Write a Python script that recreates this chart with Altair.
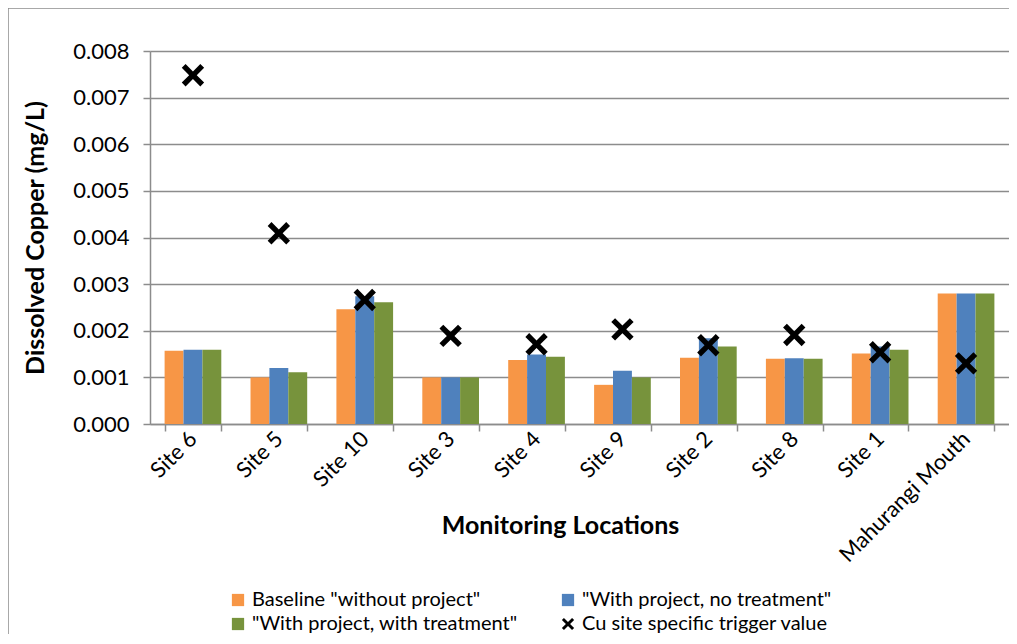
import altair as alt
import pandas as pd

sites = ["Site 6", "Site 5", "Site 10", "Site 3", "Site 4", "Site 9",
         "Site 2", "Site 8", "Site 1", "Mahurangi Mouth"]
baseline = [0.00157, 0.00100, 0.00246, 0.00100, 0.00137, 0.00084, 0.00142, 0.00140, 0.00151, 0.00280]
no_treatment = [0.00159, 0.00120, 0.00274, 0.00100, 0.00149, 0.00114, 0.00184, 0.00141, 0.00166, 0.00280]
with_treatment = [0.00159, 0.00111, 0.00261, 0.00100, 0.00144, 0.00100, 0.00166, 0.00140, 0.00159, 0.00280]
trigger = [0.00748, 0.00409, 0.00266, 0.00189, 0.00171, 0.00203, 0.00169, 0.00191, 0.00154, 0.00130]
y_ticks = [0.000, 0.001, 0.002, 0.003, 0.004, 0.005, 0.006, 0.007, 0.008]

series_names = ['Baseline "without project"', '"With project, no treatment"',
                '"With project, with treatment"', 'Cu site specific trigger value']
colors = ["#F79646", "#4F81BD", "#77933C", "#000000"]

rows = []
for name, vals in zip(series_names[:3], [baseline, no_treatment, with_treatment]):
    for s, v in zip(sites, vals):
        rows.append({"site": s, "series": name, "value": v})
bars_df = pd.DataFrame(rows)
trig_df = pd.DataFrame({"site": sites, "series": series_names[3], "value": trigger})

FONT = "Lato"
a = 0.34
xpath = (f"M-1,{-1+a}L{-1+a},-1L0,{-a}L{1-a},-1L1,{-1+a}L{a},0L1,{1-a}L{1-a},1L0,{a}"
         f"L{-1+a},1L-1,{1-a}L{-a},0Z")

color_scale = alt.Scale(domain=series_names, range=colors)

W, H = 859, 373

x_enc = alt.X("site:N", sort=sites,
              scale=alt.Scale(paddingInner=0.34, paddingOuter=0.17),
              axis=alt.Axis(title="Monitoring Locations", labelAngle=-45, labelAlign="right",
                            labelBaseline="middle", tickBand="extent", labelPadding=4,
                            labelLimit=0,
                            titleX=410, titleY=101, titleBaseline="middle", titleAlign="center"))
y_enc = alt.Y("value:Q", scale=alt.Scale(domain=[0, 0.008], nice=False),
              axis=alt.Axis(title="Dissolved Copper (mg/L)", format=".3f",
                            values=y_ticks, labelOverlap=False,
                            titleX=-115, titleY=H / 2, titleAlign="center", titleBaseline="middle"))

legend = alt.Legend(title=None, orient="none", legendX=78, legendY=539, columns=2,
                    direction="horizontal",
                    columnPadding=40, rowPadding=4, symbolSize=150, labelFontSize=20,
                    labelFont=FONT, symbolStrokeWidth=0, labelColor="#000000", labelLimit=0)

bars = alt.Chart(bars_df).mark_bar().encode(
    x=x_enc,
    y=y_enc,
    xOffset=alt.XOffset("series:N", sort=series_names[:3], scale=alt.Scale(paddingInner=0, paddingOuter=0)),
    color=alt.Color("series:N", scale=color_scale, legend=legend),
)

points = alt.Chart(trig_df).mark_point(filled=True, opacity=1, strokeWidth=0).encode(
    x=x_enc,
    y=y_enc,
    color=alt.Color("series:N", scale=color_scale, legend=legend),
    shape=alt.Shape("series:N", scale=alt.Scale(domain=series_names,
                                                range=["square", "square", "square", xpath]),
                    legend=legend),
    size=alt.value(500),
)

frame = alt.Chart(alt.Data(values=[{}])).mark_rect(fill=None, stroke="#8c8c8c", strokeWidth=1.5, clip=False).encode(
    x=alt.value(-142), x2=alt.value(880), y=alt.value(-43), y2=alt.value(700)
)

chart = alt.layer(frame, bars, points).properties(
    width=W, height=H,
    autosize=alt.AutoSizeParams(type="none"),
    padding={"left": 142, "top": 43, "right": 0, "bottom": 210},
).configure_view(stroke=None).configure_axis(
    labelFont=FONT, labelFontSize=22, labelColor="#000000",
    titleFont=FONT, titleFontSize=25, titleFontWeight="bold", titleColor="#000000",
    domainColor="#8c8c8c", tickColor="#8c8c8c", gridColor="#8c8c8c",
    domainWidth=1.5, tickWidth=1.5, gridWidth=1.5, tickSize=7,
).configure_axisY(
    labelPadding=14, grid=True,
).configure_axisX(
    grid=False,
)

chart.save("out.html", embed_options={"renderer": "svg", "actions": False})
